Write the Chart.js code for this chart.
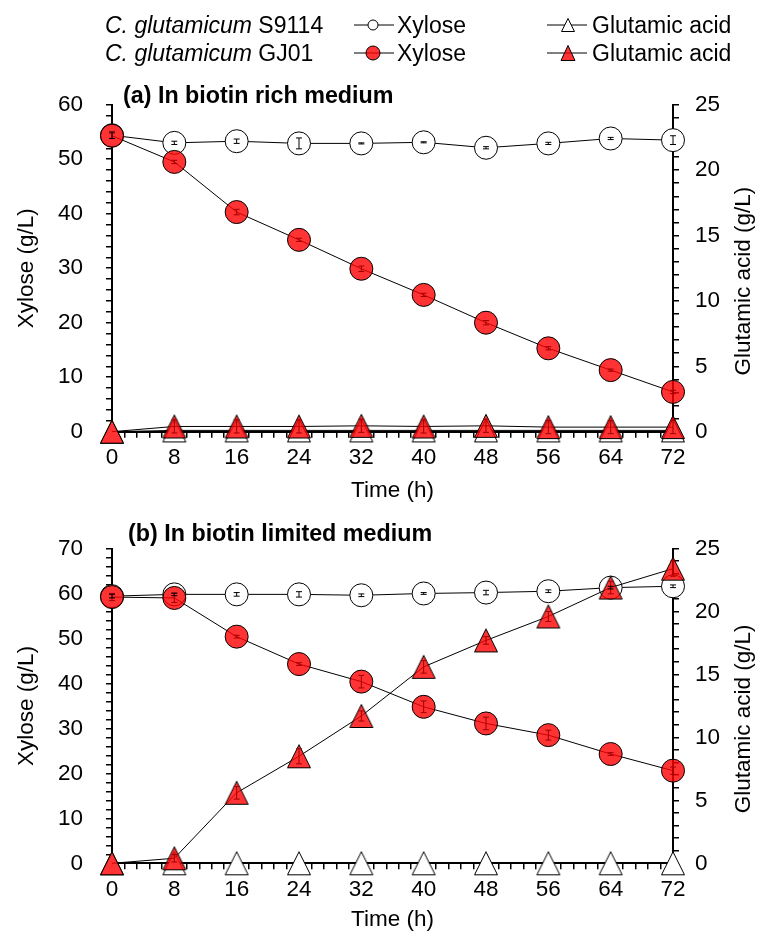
<!DOCTYPE html>
<html>
<head>
<meta charset="utf-8">
<script src="https://cdn.jsdelivr.net/npm/chart.js@4.4.1/dist/chart.umd.min.js"></script>
<style>
  body { margin: 0; background: #fff; }
  #wrap { position: relative; width: 758px; height: 933px; background: #fff; font-family: "Liberation Sans", Arial, sans-serif; color: #000; }
  canvas { position: absolute; left: 0; }
  .txt { position: absolute; white-space: nowrap; line-height: 1; }
  .leg { font-size: 23px; }
  .ttl { font-size: 23.3px; font-weight: bold; }
  svg { position: absolute; }
</style>
</head>
<body>
<div id="wrap">
  <canvas id="chartA" width="758" height="512" style="top:0"></canvas>
  <canvas id="chartB" width="758" height="421" style="top:512px"></canvas>

  <div class="txt leg" style="left:105px; top:14px"><i>C. glutamicum</i> S9114</div>
  <div class="txt leg" style="left:105px; top:42px"><i>C. glutamicum</i> GJ01</div>

  <svg width="42" height="20" style="left:354px; top:15px">
    <line x1="0" y1="10" x2="40" y2="10" stroke="#000" stroke-width="1"/>
    <circle cx="19" cy="10" r="5" fill="#fff" stroke="#000" stroke-width="1"/>
  </svg>
  <svg width="42" height="20" style="left:354px; top:43px">
    <line x1="0" y1="10" x2="40" y2="10" stroke="#000" stroke-width="1"/>
    <circle cx="19" cy="10" r="7" fill="rgba(255,0,0,0.8)" stroke="#000" stroke-width="1"/>
  </svg>
  <div class="txt leg" style="left:397px; top:14px">Xylose</div>
  <div class="txt leg" style="left:397px; top:42px">Xylose</div>

  <svg width="42" height="22" style="left:547px; top:14px">
    <line x1="0" y1="11" x2="40" y2="11" stroke="#000" stroke-width="1"/>
    <polygon points="21,4.5 27.5,17.5 14.5,17.5" fill="#fff" stroke="#000" stroke-width="1"/>
  </svg>
  <svg width="42" height="22" style="left:547px; top:42px">
    <line x1="0" y1="11" x2="40" y2="11" stroke="#000" stroke-width="1"/>
    <polygon points="21,3.5 28,18.5 14,18.5" fill="rgba(255,0,0,0.8)" stroke="#000" stroke-width="1"/>
  </svg>
  <div class="txt leg" style="left:592px; top:14px">Glutamic acid</div>
  <div class="txt leg" style="left:592px; top:42px">Glutamic acid</div>

  <div class="txt ttl" style="left:123px; top:84px">(a) In biotin rich medium</div>
  <div class="txt ttl" style="left:128px; top:522px">(b) In biotin limited medium</div>
</div>

<script>
// sampling times (h) and axis labels
const times = [0, 8, 16, 24, 32, 40, 48, 56, 64, 72];
const xTickLabels = [0, 8, 16, 24, 32, 40, 48, 56, 64, 72];

// (a) biotin rich medium
const aXyloseS9114 = [54.4, 53.0, 53.3, 52.9, 52.9, 53.1, 52.1, 52.9, 53.8, 53.5];
const aXyloseS9114Err = [0.6, 0.3, 0.4, 1.0, 0.1, 0.1, 0.2, 0.2, 0.2, 0.8];
const aXyloseGJ01 = [54.3, 49.5, 40.3, 35.2, 29.9, 25.1, 20.0, 15.3, 11.3, 7.3];
const aXyloseGJ01Err = [0.5, 0.3, 0.5, 0.3, 0.5, 0.3, 0.4, 0.3, 0.2, 0.3];
const aGluS9114 = [0, 0.1, 0.1, 0.1, 0.1, 0.1, 0.1, 0.1, 0.1, 0.1];
const aGluS9114Err = [0, 0, 0, 0, 0, 0, 0, 0, 0, 0];
const aGluGJ01 = [0, 0.4, 0.4, 0.4, 0.45, 0.4, 0.45, 0.35, 0.35, 0.35];
const aGluGJ01Err = [0, 0.5, 0.5, 0.5, 0.5, 0.5, 0.5, 0.5, 0.5, 0.5];
const aXyloseTicks = [0, 10, 20, 30, 40, 50, 60];
const aGluTicks = [0, 5, 10, 15, 20, 25];

// (b) biotin limited medium
const bXyloseS9114 = [59.4, 59.8, 59.8, 59.8, 59.6, 60.0, 60.2, 60.5, 61.3, 61.6];
const bXyloseS9114Err = [0.4, 0.3, 0.4, 0.6, 0.3, 0.2, 0.5, 0.3, 0.3, 0.3];
const bXyloseGJ01 = [59.2, 59.0, 50.4, 44.3, 40.4, 34.8, 31.1, 28.5, 24.3, 20.6];
const bXyloseGJ01Err = [0.8, 1.0, 0.3, 0.3, 1.4, 1.3, 1.4, 1.1, 0.3, 0.8];
const bGluS9114 = [0, 0, 0, 0, 0, 0, 0, 0, 0, 0];
const bGluS9114Err = [0, 0, 0, 0, 0, 0, 0, 0, 0, 0];
const bGluGJ01 = [0, 0.4, 5.6, 8.5, 11.7, 15.6, 17.7, 19.6, 21.9, 23.4];
const bGluGJ01Err = [0, 0.3, 0.5, 0.6, 0.4, 0.5, 0.3, 0.4, 0.5, 0.6];
const bXyloseTicks = [0, 10, 20, 30, 40, 50, 60, 70];
const bGluTicks = [0, 5, 10, 15, 20, 25];

const RED = 'rgba(255, 0, 0, 0.8)';
const FONT = { family: '"Liberation Sans", Arial, sans-serif', size: 22.5 };

Chart.defaults.color = '#000';
Chart.defaults.font.family = FONT.family;

// Excel style triangle marker (as tall as it is wide)
function triangleMarker(fill) {
    const c = document.createElement('canvas');
    c.width = 26; c.height = 26;
    const g = c.getContext('2d');
    g.beginPath();
    g.moveTo(13, 1.5);
    g.lineTo(24.5, 24.5);
    g.lineTo(1.5, 24.5);
    g.closePath();
    g.fillStyle = fill;
    g.fill();
    g.strokeStyle = '#000';
    g.lineWidth = 1;
    g.stroke();
    return c;
}
const triOpen = triangleMarker('#fff');
const triRed = triangleMarker(RED);

function pts(vals) {
    return times.map((t, i) => ({ x: t, y: vals[i] }));
}

function range(max, step) {
    const out = [];
    for (let i = 0; i * step <= max + 1e-9; i++) out.push(Math.round(i * step * 10) / 10);
    return out;
}

const errorBars = {
    id: 'errorBars',
    afterDatasetsDraw(chart) {
        const ctx = chart.ctx;
        chart.data.datasets.forEach((ds, di) => {
            if (!ds.errors) return;
            const meta = chart.getDatasetMeta(di);
            const ys = chart.scales[ds.yAxisID];
            ctx.save();
            ctx.strokeStyle = ds.errColor;
            ctx.lineWidth = 1;
            meta.data.forEach((pt, i) => {
                const e = ds.errors[i];
                if (!e) return;
                const v = ds.data[i].y;
                const y1 = ys.getPixelForValue(v - e), y2 = ys.getPixelForValue(v + e);
                ctx.beginPath();
                ctx.moveTo(pt.x, y1); ctx.lineTo(pt.x, y2);
                ctx.moveTo(pt.x - 3, y1); ctx.lineTo(pt.x + 3, y1);
                ctx.moveTo(pt.x - 3, y2); ctx.lineTo(pt.x + 3, y2);
                ctx.stroke();
            });
            ctx.restore();
        });
    }
};

// right axis title reads bottom to top, like the left one
const rightTitle = {
    id: 'rightTitle',
    afterDraw(chart) {
        const ctx = chart.ctx;
        const a = chart.chartArea;
        ctx.save();
        ctx.translate(744, (a.top + a.bottom) / 2 + 13);
        ctx.rotate(-Math.PI / 2);
        ctx.font = FONT.size + 'px ' + FONT.family;
        ctx.fillStyle = '#000';
        ctx.textAlign = 'center';
        ctx.textBaseline = 'middle';
        ctx.fillText('Glutamic acid (g/L)', 0, 0);
        ctx.restore();
    }
};

function makeChart(id, o) {
    const canvas = document.getElementById(id);
    const H = canvas.height;
    const line = { borderColor: '#000', borderWidth: 1, tension: 0, fill: false, clip: false, pointBorderColor: '#000', pointBorderWidth: 1 };
    const axisGrid = { drawOnChartArea: false, drawTicks: true, tickLength: 6, color: '#000', lineWidth: 1.5 };
    const axisBorder = { display: true, color: '#000', width: 2 };

    return new Chart(canvas.getContext('2d'), {
        type: 'line',
        data: {
            datasets: [
                Object.assign({}, line, {
                    label: 'GJ01 Glutamic acid', data: pts(o.gluG), yAxisID: 'y2', order: 0,
                    pointStyle: triRed, errors: o.gluGErr, errColor: '#a00000'
                }),
                Object.assign({}, line, {
                    label: 'GJ01 Xylose', data: pts(o.xylG), yAxisID: 'y', order: 1,
                    pointStyle: 'circle', pointRadius: 11.5, pointBackgroundColor: RED,
                    errors: o.xylGErr, errColor: '#a00000'
                }),
                Object.assign({}, line, {
                    label: 'S9114 Glutamic acid', data: pts(o.gluS), yAxisID: 'y2', order: 2,
                    pointStyle: triOpen, errors: o.gluSErr, errColor: '#000'
                }),
                Object.assign({}, line, {
                    label: 'S9114 Xylose', data: pts(o.xylS), yAxisID: 'y', order: 3,
                    pointStyle: 'circle', pointRadius: 11.5, pointBackgroundColor: '#fff',
                    errors: o.xylSErr, errColor: '#000'
                })
            ]
        },
        options: {
            responsive: false,
            animation: false,
            devicePixelRatio: 1,
            layout: { padding: { top: o.top, left: 0, right: 0, bottom: 0 } },
            plugins: { legend: { display: false }, tooltip: { enabled: false } },
            scales: {
                x: {
                    type: 'linear', min: 0, max: 72,
                    grid: axisGrid, border: axisBorder,
                    afterBuildTicks: s => { s.ticks = range(72, 1.6).map(v => ({ value: v })); },
                    afterFit: s => { s.height = H - o.bottom; },
                    ticks: {
                        autoSkip: false, maxRotation: 0, minRotation: 0, padding: 7, font: FONT,
                        callback: v => xTickLabels.includes(v) ? String(v) : ''
                    },
                    title: { display: true, text: 'Time (h)', font: FONT, padding: { top: 0, bottom: o.xTitlePad } }
                },
                y: {
                    position: 'left', min: 0, max: o.yMax,
                    grid: axisGrid, border: axisBorder,
                    afterBuildTicks: s => { s.ticks = range(o.yMax, 2).map(v => ({ value: v })); },
                    afterFit: s => { s.width = 112; },
                    ticks: { autoSkip: false, padding: 23, font: FONT, callback: v => o.yTicks.includes(v) ? String(v) : '' },
                    title: { display: true, text: 'Xylose (g/L)', font: FONT, padding: { top: 13, bottom: 0 } }
                },
                y2: {
                    position: 'right', min: 0, max: 25,
                    grid: axisGrid, border: axisBorder,
                    afterBuildTicks: s => { s.ticks = range(25, 1).map(v => ({ value: v })); },
                    afterFit: s => { s.width = 85; },
                    ticks: { autoSkip: false, padding: 16, font: FONT, callback: v => o.y2Ticks.includes(v) ? String(v) : '' }
                }
            }
        },
        plugins: [errorBars, rightTitle]
    });
}

makeChart('chartA', {
    top: 104.7, bottom: 431.7, xTitlePad: 8,
    yMax: 60, yTicks: aXyloseTicks, y2Ticks: aGluTicks,
    xylS: aXyloseS9114, xylSErr: aXyloseS9114Err,
    xylG: aXyloseGJ01, xylGErr: aXyloseGJ01Err,
    gluS: aGluS9114, gluSErr: aGluS9114Err,
    gluG: aGluGJ01, gluGErr: aGluGJ01Err
});

makeChart('chartB', {
    top: 36.3, bottom: 351.3, xTitlePad: 0,
    yMax: 70, yTicks: bXyloseTicks, y2Ticks: bGluTicks,
    xylS: bXyloseS9114, xylSErr: bXyloseS9114Err,
    xylG: bXyloseGJ01, xylGErr: bXyloseGJ01Err,
    gluS: bGluS9114, gluSErr: bGluS9114Err,
    gluG: bGluGJ01, gluGErr: bGluGJ01Err
});
</script>
</body>
</html>
